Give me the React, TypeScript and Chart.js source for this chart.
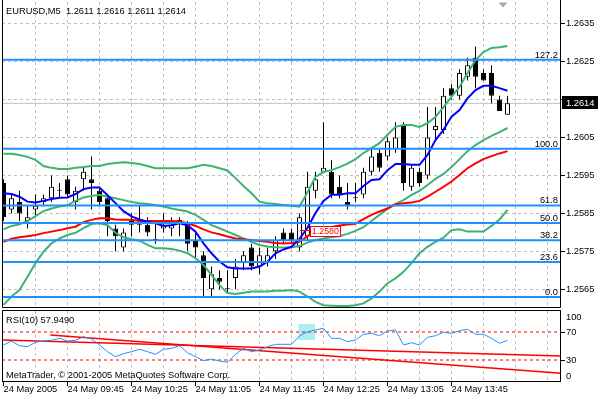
import React, { useEffect, useRef } from "react";
import { Chart, registerables } from "chart.js";

Chart.register(...registerables);

// ---------- data ----------
const symbol = "EURUSD,M5";

const opens = [
  1.2593, 1.2586, 1.2588, 1.2583, 1.2586, 1.2588, 1.2589, 1.2591, 1.2594, 1.2588,
  1.2594, 1.2594, 1.2591, 1.2589, 1.2581, 1.2576, 1.2582, 1.2582, 1.2582, 1.2578,
  1.2581, 1.2581, 1.2583, 1.2582, 1.2578, 1.2574, 1.2565, 1.2568, 1.2565, 1.2568,
  1.2572, 1.2576, 1.2571, 1.2572, 1.2575, 1.258, 1.258, 1.2576, 1.2579, 1.2591,
  1.2596, 1.2596, 1.2592, 1.2588, 1.2589, 1.259, 1.2596, 1.2601, 1.26, 1.2602,
  1.2608, 1.2592, 1.2596, 1.2595, 1.2607, 1.2607, 1.2618, 1.2616, 1.2621, 1.2626,
  1.2622, 1.2622, 1.2615, 1.2611,
];
const highs = [
  1.2594, 1.259, 1.2591, 1.2587, 1.259, 1.259, 1.2595, 1.2593, 1.2595, 1.2592,
  1.2597, 1.26, 1.2592, 1.259, 1.2582, 1.2581, 1.2585, 1.2587, 1.2584, 1.2583,
  1.2585, 1.2584, 1.2584, 1.2583, 1.258, 1.2575, 1.2571, 1.257, 1.257, 1.2573,
  1.2575, 1.2577, 1.2576, 1.2576, 1.2579, 1.2581, 1.2581, 1.2585, 1.2596, 1.2596,
  1.2609, 1.2599, 1.2595, 1.2593, 1.2593, 1.2597, 1.2602, 1.2602, 1.2605, 1.2609,
  1.2609, 1.2598, 1.2597, 1.2613, 1.2613, 1.2618, 1.2619, 1.2623, 1.2626, 1.2629,
  1.2623, 1.2624, 1.2616, 1.2616,
];
const lows = [
  1.2583, 1.2585, 1.2583, 1.2581, 1.2584, 1.2587, 1.2588, 1.2589, 1.2589, 1.2586,
  1.2591, 1.2586, 1.2587, 1.2579, 1.2575, 1.2575, 1.2579, 1.258, 1.2579, 1.2577,
  1.258, 1.2579, 1.2579, 1.2575, 1.2573, 1.2563, 1.2563, 1.2565, 1.2564, 1.2565,
  1.257, 1.257, 1.2569, 1.2571, 1.2573, 1.2577, 1.2577, 1.2575, 1.2578, 1.2589,
  1.2596, 1.2589, 1.2589, 1.2586, 1.2588, 1.2589, 1.2595, 1.2596, 1.2599, 1.2601,
  1.2591, 1.2591, 1.2592, 1.2594, 1.2604, 1.2606, 1.2615, 1.2615, 1.262, 1.2618,
  1.262, 1.2614, 1.2612, 1.2611,
];
const closes = [
  1.2584, 1.2589, 1.2585, 1.2584, 1.2587, 1.2589, 1.2592, 1.2591, 1.259, 1.2591,
  1.2596, 1.2593, 1.2588, 1.2583, 1.2579, 1.258, 1.2583, 1.2582, 1.258, 1.2578,
  1.2582, 1.2582, 1.2583, 1.2577, 1.2576, 1.2568, 1.2569, 1.2567, 1.2565, 1.2571,
  1.2574, 1.2571, 1.2574, 1.2574, 1.2578, 1.2578, 1.2578, 1.2584, 1.2592, 1.2594,
  1.2597, 1.259, 1.259, 1.2587, 1.2589, 1.2596, 1.26, 1.2597, 1.2604, 1.2605,
  1.2593, 1.2597, 1.2593, 1.2605, 1.2608, 1.2616, 1.2616, 1.2622, 1.2624, 1.2621,
  1.262, 1.2616, 1.2612, 1.2614,
];

const maFast = [
  1.25903, 1.25901, 1.25894, 1.25881, 1.25879, 1.25883, 1.25888, 1.25891, 1.25892, 1.25901,
  1.25914, 1.25918, 1.25918, 1.25898, 1.25877, 1.25856, 1.25842, 1.25834, 1.25828, 1.25824,
  1.25817, 1.25819, 1.25824, 1.25819, 1.25802, 1.25771, 1.25745, 1.25723, 1.25708, 1.25705,
  1.25705, 1.25705, 1.2571, 1.25723, 1.25745, 1.25755, 1.25762, 1.25783, 1.25812, 1.25851,
  1.25883, 1.25899, 1.25899, 1.25903, 1.25903, 1.25922, 1.25938, 1.2594, 1.25964, 1.2598,
  1.2598, 1.25978, 1.25978, 1.26004, 1.26043, 1.2607, 1.26105, 1.26122, 1.26153, 1.26175,
  1.26186, 1.26186, 1.2618, 1.26173,
];
const maSlow = [
  1.25775, 1.25783, 1.25787, 1.2579, 1.25793, 1.25798, 1.25802, 1.25806, 1.25811, 1.25815,
  1.25827, 1.25833, 1.25837, 1.25837, 1.25834, 1.25833, 1.25833, 1.2583, 1.2583, 1.2583,
  1.2583, 1.2583, 1.25829, 1.25824, 1.25817, 1.25808, 1.258, 1.25795, 1.25789, 1.25784,
  1.25782, 1.2578, 1.25777, 1.25775, 1.25772, 1.25771, 1.25772, 1.25775, 1.2579, 1.25801,
  1.25809, 1.25814, 1.25818, 1.25821, 1.25823, 1.25835, 1.25846, 1.25855, 1.25863, 1.25874,
  1.25877, 1.25879, 1.25883, 1.25894, 1.25907, 1.2592, 1.25934, 1.25951, 1.25969, 1.25982,
  1.25993, 1.26001, 1.26008, 1.26014,
];
const bbUpper = [
  1.26007, 1.26007, 1.26004, 1.25999, 1.25991, 1.25975, 1.2597, 1.25967, 1.25967, 1.2597,
  1.25972, 1.25975, 1.25975, 1.2598, 1.25983, 1.25985, 1.25983, 1.2598, 1.25975, 1.25969,
  1.25969, 1.25969, 1.25969, 1.25969, 1.25973, 1.25978, 1.25975, 1.25969, 1.25963, 1.25943,
  1.25922, 1.25903, 1.25881, 1.25877, 1.25875, 1.25872, 1.2587, 1.25868, 1.25906, 1.25946,
  1.25959, 1.25964, 1.25972, 1.25981, 1.25993, 1.26009, 1.26022, 1.26035, 1.26057, 1.26078,
  1.26083, 1.26083, 1.26078, 1.26088, 1.26104, 1.2613, 1.26157, 1.26183, 1.2622, 1.26254,
  1.26275, 1.26286, 1.26288, 1.26291,
];
const bbMiddle = [
  1.25808, 1.25817, 1.25821, 1.2583, 1.25843, 1.25856, 1.25863, 1.25868, 1.25872, 1.25883,
  1.25892, 1.25896, 1.25899, 1.25894, 1.2589, 1.25885, 1.2588, 1.25877, 1.25875, 1.25872,
  1.25868, 1.25863, 1.25859, 1.25855, 1.25846, 1.25833, 1.25819, 1.25811, 1.25802, 1.25793,
  1.25784, 1.25775, 1.25767, 1.25763, 1.25761, 1.2576, 1.25761, 1.25764, 1.25773, 1.2578,
  1.25784, 1.25787, 1.2579, 1.25796, 1.25804, 1.25814, 1.2583, 1.25846, 1.25862, 1.25875,
  1.25885, 1.25899, 1.25909, 1.25925, 1.25941, 1.25954, 1.25972, 1.25993, 1.26014, 1.2603,
  1.26043, 1.26054, 1.26064, 1.26075,
];
const bbLower = [
  1.25609, 1.25631, 1.25648, 1.25683, 1.25719, 1.25749, 1.25771, 1.25784, 1.25793, 1.25799,
  1.25811, 1.25822, 1.25824, 1.25819, 1.25799, 1.25787, 1.25782, 1.25778, 1.25767, 1.25758,
  1.25758, 1.25756, 1.25752, 1.25745, 1.25732, 1.25714, 1.25688, 1.25661, 1.2564, 1.25638,
  1.25641, 1.25644, 1.25644, 1.25644, 1.25646, 1.25646, 1.25648, 1.25644, 1.25631, 1.25617,
  1.25608, 1.25607, 1.25606, 1.25606, 1.25608, 1.25613, 1.25626, 1.25644, 1.25666, 1.25679,
  1.25696, 1.25719, 1.25745, 1.25762, 1.25775, 1.25786, 1.25806, 1.25808, 1.25802, 1.25802,
  1.25802, 1.25817, 1.25834, 1.25859,
];

const rsiPeriod = 10;
const rsi = [
  51.4, 57.1, 50.4, 49.0, 55.3, 57.1, 58.1, 61.0, 57.1, 58.1,
  63.3, 60.0, 51.4, 41.9, 34.7, 39.0, 41.9, 45.3, 41.9, 38.1,
  45.3, 46.7, 50.4, 40.4, 34.7, 29.0, 31.4, 28.6, 26.7, 38.1,
  46.7, 41.9, 44.3, 49.0, 52.4, 52.4, 52.4, 64.3, 70.4, 72.9,
  75.3, 61.0, 61.0, 56.1, 58.6, 66.7, 68.1, 64.7, 71.4, 72.9,
  51.4, 54.7, 51.4, 62.4, 64.7, 69.6, 68.1, 71.9, 73.9, 66.7,
  66.7, 61.0, 53.9, 57.949,
];
const rsiLevels = [70, 30];
const rsiTrend1Bars = [-0.1875, 69.6875];
const rsiTrend1Values = [58.6, 35.7];
const rsiTrend2Bars = [5.85, 69.6875];
const rsiTrend2Values = [65.7, 11.0];
const zoneBars = [36.85, 38.95];
const zoneValues = [58.6, 81.4];

const priceTicks = [1.2565, 1.2575, 1.2585, 1.2595, 1.2605, 1.2615, 1.2625, 1.2635];
const fibLabels = ["0.0", "23.6", "38.2", "50.0", "61.8", "100.0", "127.2"];
const fibPrices = [1.2563, 1.25722, 1.25779, 1.25825, 1.25871, 1.2602, 1.26255];
const bidPrice = 1.2614;
const labelBar = 37;
const labelPrice = 1.258;

const timeLabelBars = [0, 8, 16, 24, 32, 40, 48, 56];
const timeLabels = [
  "24 May 2005", "24 May 09:45", "24 May 10:25", "24 May 11:05",
  "24 May 11:45", "24 May 12:25", "24 May 13:05", "24 May 13:45",
];

// ---------- styling / axes ----------
const X_MIN = -0.1875;
const X_MAX = 69.6875;
const Y_MIN = 1.256008;
const Y_MAX = 1.264069;
const GRID_STEP = 4;

const FONT_FAMILY = "'Liberation Sans', Arial, sans-serif";
const FONT_SIZE = 9.3;
const CSS_FONT = `${FONT_SIZE}px ${FONT_FAMILY}`;
const GRID_COLOR = "#C0C0C0";
const FIB_COLOR = "#1E90FF";
const BB_COLOR = "#3CB371";

const gridBars: number[] = [];
for (let b = GRID_STEP; b <= X_MAX; b += GRID_STEP) gridBars.push(b);
const rsiGridBars: number[] = [];
for (let b = 0; b <= X_MAX; b += GRID_STEP) rsiGridBars.push(b);

const zeroPad = (s: any) => {
  s.paddingTop = 0;
  s.paddingBottom = 0;
  s.paddingLeft = 0;
  s.paddingRight = 0;
};

const series = (arr: number[]) => arr.map((v, i) => ({ x: i, y: v }));
const hline = (v: number) => [
  { x: X_MIN, y: v },
  { x: X_MAX, y: v },
];

const lineDs = (data: any[], color: string, width: number, order: number, extra: any = {}) => ({
  type: "line",
  data,
  borderColor: color,
  borderWidth: width,
  pointRadius: 0,
  pointHoverRadius: 0,
  fill: false,
  tension: 0,
  clip: 0,
  order,
  ...extra,
});

const mainDecor = {
  id: "mainDecor",
  afterDraw(chart: any) {
    const { ctx, chartArea: a, scales } = chart;
    const xs = scales.x;
    const ys = scales.y;
    ctx.save();
    ctx.font = CSS_FONT;
    ctx.fillStyle = "#000";
    ctx.textBaseline = "alphabetic";

    // fibo level labels
    ctx.textAlign = "right";
    fibPrices.forEach((p, k) => {
      ctx.fillText(fibLabels[k], a.right - 3, ys.getPixelForValue(p) - 2);
    });

    // title
    ctx.textAlign = "left";
    const n = closes.length - 1;
    ctx.fillText(
      `${symbol}  ${opens[n].toFixed(4)} ${highs[n].toFixed(4)} ${lows[n].toFixed(4)} ${closes[n].toFixed(4)}`,
      a.left + 4,
      a.top + 12
    );

    // price label object
    const lx = Math.round(xs.getPixelForValue(labelBar));
    const ly = Math.round(ys.getPixelForValue(labelPrice));
    ctx.strokeStyle = "#FF0000";
    ctx.lineWidth = 1;
    ctx.beginPath();
    ctx.moveTo(lx, ly - 1.5);
    ctx.lineTo(lx + 10, ly - 1.5);
    ctx.stroke();
    ctx.fillStyle = "#FFFFFF";
    ctx.fillRect(lx + 10, ly - 6, 31, 11);
    ctx.strokeRect(lx + 10.5, ly - 5.5, 30, 10);
    ctx.fillStyle = "#FF0000";
    ctx.font = `8.8px ${FONT_FAMILY}`;
    ctx.textBaseline = "middle";
    ctx.fillText(labelPrice.toFixed(4), lx + 12, ly);

    // bid box on the price axis
    const by = ys.getPixelForValue(bidPrice);
    ctx.fillStyle = "#000";
    ctx.fillRect(a.right + 1, Math.round(by) - 7, 36, 13);
    ctx.fillStyle = "#FFF";
    ctx.font = CSS_FONT;
    ctx.textBaseline = "middle";
    ctx.fillText(bidPrice.toFixed(4), a.right + 5, by);

    // frame
    ctx.strokeStyle = "#000";
    ctx.lineWidth = 1;
    ctx.beginPath();
    ctx.moveTo(a.left + 0.5, 0);
    ctx.lineTo(a.left + 0.5, a.bottom - 0.5);
    ctx.lineTo(a.right - 0.5, a.bottom - 0.5);
    ctx.lineTo(a.right - 0.5, 0);
    ctx.stroke();

    // chart shift marker
    const tx = a.right - 58;
    ctx.fillStyle = "#A8A8A8";
    ctx.beginPath();
    ctx.moveTo(tx - 4.5, 2.5);
    ctx.lineTo(tx + 4.5, 2.5);
    ctx.lineTo(tx, 7.5);
    ctx.closePath();
    ctx.fill();
    ctx.restore();
  },
};

const rsiDecor = {
  id: "rsiDecor",
  beforeDatasetsDraw(chart: any) {
    const { ctx, scales } = chart;
    const x0 = scales.x.getPixelForValue(zoneBars[0]);
    const x1 = scales.x.getPixelForValue(zoneBars[1]);
    const y0 = scales.y.getPixelForValue(zoneValues[1]);
    const y1 = scales.y.getPixelForValue(zoneValues[0]);
    ctx.save();
    ctx.fillStyle = "#AFEEEE";
    ctx.fillRect(x0, y0, x1 - x0, y1 - y0);
    ctx.restore();
  },
  afterDraw(chart: any) {
    const { ctx, chartArea: a, scales } = chart;
    const ys = scales.y;
    ctx.save();
    ctx.font = CSS_FONT;
    ctx.fillStyle = "#000";
    ctx.textAlign = "left";
    ctx.textBaseline = "alphabetic";
    ctx.fillText(`RSI(${rsiPeriod}) ${rsi[rsi.length - 1].toFixed(4)}`, a.left + 4, a.top + 12.3);
    ctx.fillText("MetaTrader, \u00A9 2001-2005 MetaQuotes Software Corp.", a.left + 4, a.bottom - 3);
    ctx.textBaseline = "middle";
    ctx.fillText("100", a.right + 5, ys.getPixelForValue(100) + 6.5);
    ctx.fillText("0", a.right + 5, ys.getPixelForValue(0) - 5);
    ctx.strokeStyle = "#000";
    ctx.lineWidth = 1;
    ctx.strokeRect(a.left + 0.5, a.top - 0.5, a.right - a.left - 1, a.bottom - a.top + 1);
    ctx.restore();
  },
};

function buildMainConfig() {
  const idx = opens.map((_, i) => i);
  const datasets: any[] = [
    lineDs(hline(bidPrice), GRID_COLOR, 1, 30),
    {
      type: "bar",
      data: idx.map((i) => ({ x: i, y: [lows[i], highs[i]] })),
      backgroundColor: "#000",
      borderWidth: 0,
      barThickness: 1,
      grouped: false,
      inflateAmount: 0,
      clip: 0,
      order: 29,
    },
    {
      type: "bar",
      data: idx.map((i) => ({ x: i, y: [opens[i], closes[i]] })),
      backgroundColor: idx.map((i) => (closes[i] > opens[i] ? "#FFFFFF" : "#000000")),
      borderColor: "#000",
      borderWidth: 1,
      borderSkipped: false,
      barThickness: 5,
      minBarLength: 1,
      grouped: false,
      inflateAmount: 0,
      clip: 0,
      order: 28,
    },
    lineDs(series(bbUpper), BB_COLOR, 2, 12),
    lineDs(series(bbMiddle), BB_COLOR, 2, 11),
    lineDs(series(bbLower), BB_COLOR, 2, 10),
    lineDs(series(maSlow), "#FF0000", 2, 9),
    lineDs(series(maFast), "#0000FF", 2, 8),
    ...fibPrices.map((p) => lineDs(hline(p), FIB_COLOR, 2, 1)),
  ];
  return {
    type: "line",
    data: { datasets },
    plugins: [mainDecor],
    options: {
      responsive: false,
      animation: false,
      devicePixelRatio: 1,
      events: [],
      layout: { padding: { left: 2, top: 2, right: 0, bottom: 2 }, autoPadding: false },
      plugins: { legend: { display: false }, tooltip: { enabled: false }, title: { display: false } },
      scales: {
        x: {
          type: "linear",
          min: X_MIN,
          max: X_MAX,
          bounds: "data",
          offset: false,
          afterBuildTicks: (s: any) => {
            s.ticks = gridBars.map((v) => ({ value: v }));
          },
          afterFit: (s: any) => {
            s.height = 0;
            zeroPad(s);
          },
          ticks: { display: false },
          grid: { color: GRID_COLOR, drawTicks: false, offset: false, borderDash: [3, 3] },
          border: { display: false, dash: [3, 3] },
        },
        y: {
          type: "linear",
          position: "right",
          min: Y_MIN,
          max: Y_MAX,
          bounds: "data",
          afterBuildTicks: (s: any) => {
            s.ticks = priceTicks.map((v) => ({ value: v }));
          },
          afterFit: (s: any) => {
            s.width = 39;
            zeroPad(s);
          },
          ticks: {
            autoSkip: false,
            padding: 1,
            color: "#000",
            font: { family: FONT_FAMILY, size: FONT_SIZE },
            callback: (v: any) => Number(v).toFixed(4),
          },
          grid: {
            color: GRID_COLOR,
            tickColor: "#000",
            tickLength: 4,
            tickWidth: 1,
            tickBorderDash: [],
            borderDash: [3, 3],
          },
          border: { display: false, dash: [3, 3] },
        },
      },
    },
  };
}

function buildRsiConfig() {
  const datasets: any[] = [
    ...rsiLevels.map((v) => lineDs(hline(v), "#FF0000", 1, 6, { borderDash: [3, 3] })),
    lineDs(
      rsiTrend1Bars.map((b, k) => ({ x: b, y: rsiTrend1Values[k] })),
      "#FF0000",
      1.6,
      4
    ),
    lineDs(
      rsiTrend2Bars.map((b, k) => ({ x: b, y: rsiTrend2Values[k] })),
      "#FF0000",
      1.6,
      3
    ),
    lineDs(series(rsi), "#1E90FF", 1, 1),
  ];
  return {
    type: "line",
    data: { datasets },
    plugins: [rsiDecor],
    options: {
      responsive: false,
      animation: false,
      devicePixelRatio: 1,
      events: [],
      layout: { padding: { left: 2, top: 1, right: 0, bottom: 0 }, autoPadding: false },
      plugins: { legend: { display: false }, tooltip: { enabled: false }, title: { display: false } },
      scales: {
        x: {
          type: "linear",
          min: X_MIN,
          max: X_MAX,
          bounds: "data",
          offset: false,
          afterBuildTicks: (s: any) => {
            s.ticks = rsiGridBars.map((v) => ({ value: v }));
          },
          afterFit: (s: any) => {
            s.height = 19;
            zeroPad(s);
          },
          ticks: {
            autoSkip: false,
            maxRotation: 0,
            minRotation: 0,
            align: "start",
            padding: -2,
            color: "#000",
            font: { family: FONT_FAMILY, size: FONT_SIZE },
            callback: (v: any) => {
              const k = timeLabelBars.indexOf(Number(v));
              return k >= 0 ? timeLabels[k] : "";
            },
          },
          grid: {
            color: (c: any) => (c.tick && c.tick.value === 0 ? "rgba(0,0,0,0)" : GRID_COLOR),
            tickColor: (c: any) =>
              c.tick && timeLabelBars.indexOf(c.tick.value) >= 0 ? "#000" : "rgba(0,0,0,0)",
            tickLength: 5,
            tickWidth: 1,
            tickBorderDash: [],
            offset: false,
            borderDash: [3, 3],
          },
          border: { display: false, dash: [3, 3] },
        },
        y: {
          type: "linear",
          position: "right",
          min: 0,
          max: 100,
          bounds: "data",
          afterBuildTicks: (s: any) => {
            s.ticks = rsiLevels.map((v) => ({ value: v }));
          },
          afterFit: (s: any) => {
            s.width = 39;
            zeroPad(s);
          },
          ticks: {
            autoSkip: false,
            padding: 1,
            color: "#000",
            font: { family: FONT_FAMILY, size: FONT_SIZE },
            callback: (v: any) => String(v),
          },
          grid: { drawOnChartArea: false, tickColor: "#000", tickLength: 4, tickWidth: 1 },
          border: { display: false },
        },
      },
    },
  };
}

export default function App() {
  const mainRef = useRef<HTMLCanvasElement | null>(null);
  const rsiRef = useRef<HTMLCanvasElement | null>(null);

  useEffect(() => {
    const charts: any[] = [];
    if (mainRef.current) charts.push(new Chart(mainRef.current, buildMainConfig() as any));
    if (rsiRef.current) charts.push(new Chart(rsiRef.current, buildRsiConfig() as any));
    return () => {
      charts.forEach((c) => c.destroy());
    };
  }, []);

  return (
    <div
      style={{
        position: "absolute",
        left: 0,
        top: 0,
        width: 600,
        height: 400,
        background: "#FFFFFF",
        overflow: "hidden",
      }}
    >
      <canvas
        ref={mainRef}
        width={600}
        height={310}
        style={{ position: "absolute", left: 0, top: 0, width: 600, height: 310 }}
      />
      <canvas
        ref={rsiRef}
        width={600}
        height={90}
        style={{ position: "absolute", left: 0, top: 310, width: 600, height: 90 }}
      />
    </div>
  );
}
